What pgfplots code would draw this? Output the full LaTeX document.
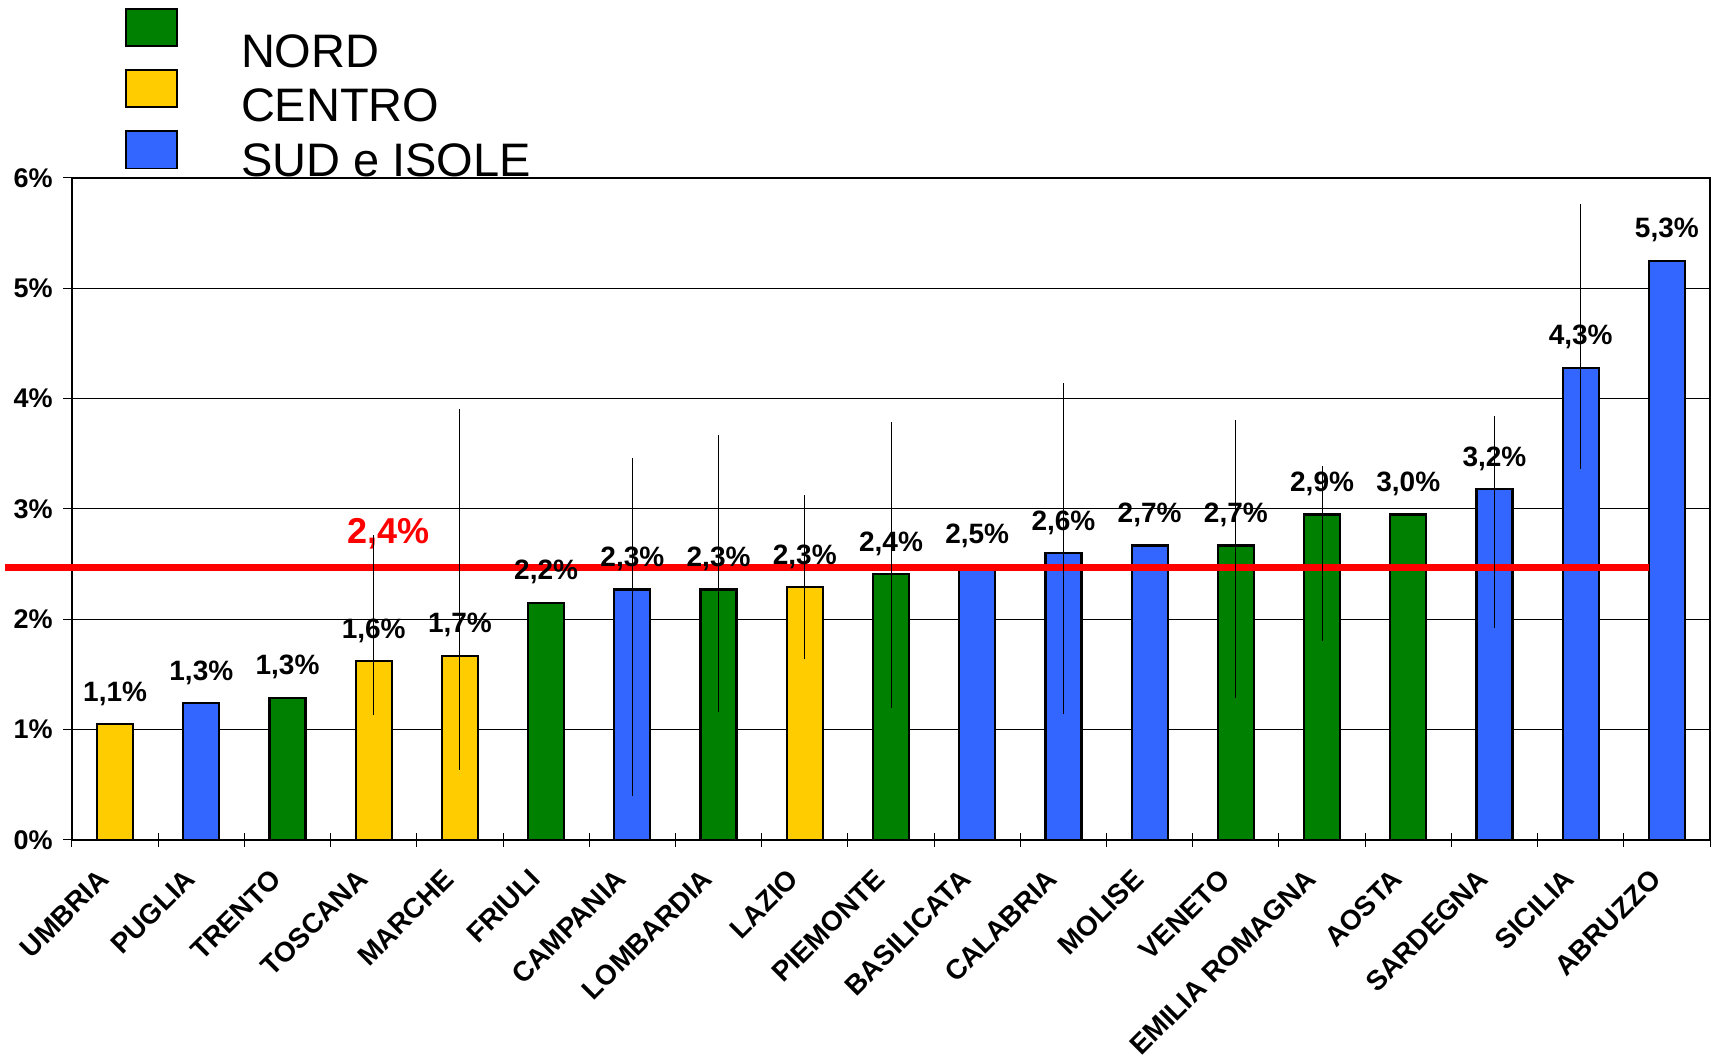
\documentclass[border=0pt]{standalone}
\usepackage{pgfplots}
\pgfplotsset{compat=1.18}
\usepackage{fontspec}
\setmainfont{Liberation Sans}
\definecolor{nord}{RGB}{0,128,0}
\definecolor{centro}{RGB}{255,204,0}
\definecolor{sud}{RGB}{51,102,255}
\begin{document}
\begin{tikzpicture}
\useasboundingbox (-36pt,-109.5pt) rectangle (821.5pt,420pt);
\begin{axis}[
  scale only axis, width=819pt, height=331pt,
  xmin=-0.5, xmax=18.5, ymin=0, ymax=6,
  clip=false,
  axis line style={black, line width=0.6pt},
  tick pos=left,
  xtick={0,...,18},
  xticklabels={UMBRIA,PUGLIA,TRENTO,TOSCANA,MARCHE,FRIULI,CAMPANIA,LOMBARDIA,LAZIO,PIEMONTE,BASILICATA,CALABRIA,MOLISE,VENETO,EMILIA ROMAGNA,AOSTA,SARDEGNA,SICILIA,ABRUZZO},
  major x tick style={draw=none},
  minor xtick={-0.5,0.5,...,18.5},
  minor x tick style={black, line width=0.5pt},
  minor tick length=7pt,
  xtick align=center,
  ytick={0,1,2,3,4,5,6},
  yticklabels={0\%,1\%,2\%,3\%,4\%,5\%,6\%},
  ytick align=outside,
  major tick length=4.5pt,
  y tick style={black, line width=0.5pt},
  ymajorgrids,
  major grid style={black, line width=0.5pt},
  /pgf/number format/assume math mode=true,
  yticklabel style={font=\fontsize{13.5}{16}\selectfont\bfseries, anchor=east, inner sep=0pt, xshift=-5pt},
  xticklabel style={font=\fontsize{13.9}{17}\selectfont\bfseries, xshift=-5.5pt, yshift=2.2pt, rotate=45, anchor=east, inner sep=0pt},
  xticklabel shift=17pt,
  every node near coord/.append style={font=\fontsize{14}{16}\selectfont\bfseries, anchor=base, inner sep=0pt, yshift=11.5pt},
]
% NORD
\addplot[ybar, bar width=18pt, fill=nord, draw=black, line width=1.1pt,
  nodes near coords, point meta=explicit symbolic] coordinates {
  (2,1.29) [1,3\%]
  (5,2.15) [2,2\%]
  (7,2.27) [2,3\%]
  (9,2.41) [2,4\%]
  (13,2.67) [2,7\%]
  (14,2.95) [2,9\%]
  (15,2.95) [3,0\%]
};
% CENTRO
\addplot[ybar, bar width=18pt, fill=centro, draw=black, line width=1.1pt,
  nodes near coords, point meta=explicit symbolic] coordinates {
  (0,1.05) [1,1\%]
  (3,1.62) [1,6\%]
  (4,1.67) [1,7\%]
  (8,2.29) [2,3\%]
};
% SUD e ISOLE
\addplot[ybar, bar width=18pt, fill=sud, draw=black, line width=1.1pt,
  nodes near coords, point meta=explicit symbolic] coordinates {
  (1,1.24) [1,3\%]
  (6,2.27) [2,3\%]
  (10,2.48) [2,5\%]
  (11,2.60) [2,6\%]
  (12,2.67) [2,7\%]
  (16,3.18) [3,2\%]
  (17,4.28) [4,3\%]
  (18,5.25) [5,3\%]
};
% national average
\addplot[red, line width=3.3pt, mark=none] coordinates {(-1.274,2.47) (17.79,2.47)};
\node[text=red, font=\fontsize{18}{20}\selectfont\bfseries, inner sep=0pt] at (axis cs:3.17,2.78) {2,4\%};
% confidence intervals
\addplot[draw=none, mark=none,
  error bars/.cd, y dir=both, y explicit, error mark=none,
  error bar style={draw=black, line width=0.5pt}] coordinates {
  (3,1.62) += (0,1.14) -= (0,0.49)
  (4,1.67) += (0,2.24) -= (0,1.04)
  (6,2.27) += (0,1.19) -= (0,1.87)
  (7,2.27) += (0,1.40) -= (0,1.11)
  (8,2.29) += (0,0.84) -= (0,0.65)
  (9,2.41) += (0,1.38) -= (0,1.21)
  (11,2.60) += (0,1.54) -= (0,1.46)
  (13,2.67) += (0,1.14) -= (0,1.38)
  (14,2.95) += (0,0.44) -= (0,1.15)
  (16,3.18) += (0,0.66) -= (0,1.26)
  (17,4.28) += (0,1.48) -= (0,0.92)
};
\end{axis}
% legend
\begin{scope}[every node/.style={anchor=base west, inner sep=0pt, font=\fontsize{23.5}{28}\selectfont}]
  \filldraw[fill=nord, draw=black, line width=0.8pt] (26.9pt,397pt) rectangle (52.6pt,415.6pt);
  \filldraw[fill=centro, draw=black, line width=0.8pt] (26.9pt,366.4pt) rectangle (52.6pt,385pt);
  \filldraw[fill=sud, draw=black, line width=0.8pt] (26.9pt,335.8pt) rectangle (52.6pt,354.4pt);
  \node at (84.3pt,386.1pt) {NORD};
  \node at (84.3pt,359.3pt) {CENTRO};
  \node at (84.3pt,331.6pt) {SUD e ISOLE};
\end{scope}
\end{tikzpicture}
\end{document}
